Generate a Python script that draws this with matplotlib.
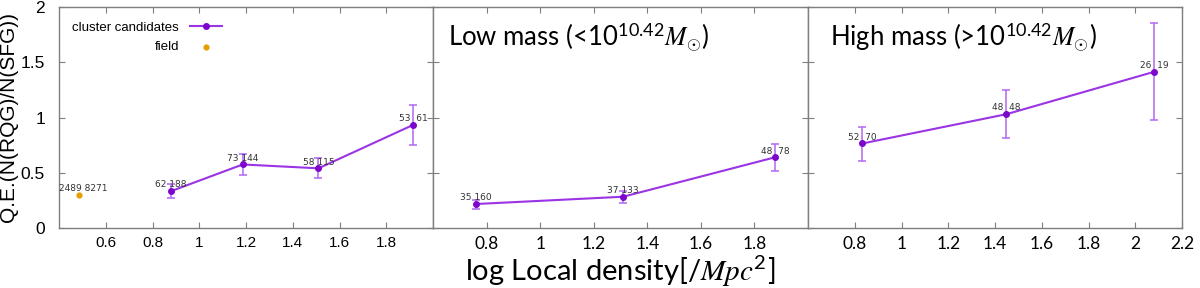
import matplotlib
matplotlib.use('Agg')
import matplotlib.pyplot as plt

plt.rcParams['mathtext.fontset'] = 'custom'
plt.rcParams['mathtext.rm'] = 'Lato'
plt.rcParams['mathtext.sf'] = 'Lato'
plt.rcParams['mathtext.it'] = 'STIXGeneral:italic'
plt.rcParams['mathtext.bf'] = 'Lato:bold'

# all galaxies
all_x = [0.88, 1.186, 1.51, 1.916]
all_y = [0.334, 0.575, 0.54, 0.934]
all_lo = [0.27, 0.48, 0.45, 0.75]
all_hi = [0.40, 0.666, 0.635, 1.115]
all_lab = ['62 188', '73 144', '58 115', '53  61']
field_x = [0.484]
field_y = [0.30]
field_lab = ['2489 8271']

# low mass
low_x = [0.76, 1.31, 1.877]
low_y = [0.217, 0.283, 0.64]
low_lo = [0.17, 0.23, 0.52]
low_hi = [0.25, 0.337, 0.76]
low_lab = ['35 160', '37 133', '48  78']

# high mass
high_x = [0.833, 1.449, 2.08]
high_y = [0.765, 1.03, 1.413]
high_lo = [0.61, 0.816, 0.976]
high_hi = [0.916, 1.253, 1.858]
high_lab = ['52  70', '48  48', '26  19']

line_c = '#9a34e4'
err_c = '#b266f2'
pt_c = '#7d06cc'
field_c = '#e69f00'
spine_c = '#7f7f7f'


def draw(ax, x, y, lo, hi, labels):
    yerr = [[v - l for v, l in zip(y, lo)], [h - v for v, h in zip(y, hi)]]
    ax.errorbar(x, y, yerr=yerr, fmt='none', ecolor=err_c, elinewidth=1.1,
                capsize=3, capthick=1.1, zorder=2)
    line, = ax.plot(x, y, '-', color=line_c, lw=1.5, marker='o', ms=4,
                    mfc=pt_c, mec=pt_c, zorder=3, label='cluster candidates')
    for xi, yi, t in zip(x, y, labels):
        ax.annotate(t, (xi, yi), xytext=(0, 4.5), textcoords='offset points',
                    ha='center', va='center', fontsize=6.5, color='#333333',
                    family='DejaVu Sans')
    return line


def frame(ax, xlim, xticks, tick_font, tick_size):
    ax.set_xlim(*xlim)
    ax.set_ylim(0, 2)
    ax.set_xticks(xticks)
    ax.set_xticklabels(['%g' % t for t in xticks], family=tick_font,
                       fontsize=tick_size)
    ax.set_yticks([0, 0.5, 1, 1.5, 2])
    ax.tick_params(direction='in', top=True, right=True, length=4,
                   color=spine_c, width=0.8, pad=6)
    for s in ax.spines.values():
        s.set_color(spine_c)
        s.set_linewidth(1.0)


fig = plt.figure(figsize=(12, 2.88), dpi=100)
b, h = 1 - 228 / 288, (228 - 7) / 288
ax1 = fig.add_axes([59 / 1200, b, 374 / 1200, h])
ax2 = fig.add_axes([433 / 1200, b, 375 / 1200, h])
ax3 = fig.add_axes([808 / 1200, b, 374 / 1200, h])

line = draw(ax1, all_x, all_y, all_lo, all_hi, all_lab)
fld = ax1.scatter(field_x, field_y, s=12, color=field_c, zorder=3, label='field')
for xi, yi, t in zip(field_x, field_y, field_lab):
    ax1.annotate(t, (xi, yi), xytext=(3, 4.5), textcoords='offset points',
                 ha='center', va='center', fontsize=6.5, color='#333333',
                 family='DejaVu Sans')
frame(ax1, (0.4, 2.0), [0.6, 0.8, 1, 1.2, 1.4, 1.6, 1.8], 'Liberation Sans', 11)
ax1.set_yticklabels(['0', '0.5', '1', '1.5', '2'], family='Liberation Sans',
                    fontsize=12.5)
ax1.tick_params(axis='y', pad=10)
ax1.set_ylabel('Q.E.(N(RQG)/N(SFG))', family='Liberation Sans', fontsize=15,
               labelpad=2)
ax1.legend(handles=[line, fld], loc='upper left', bbox_to_anchor=(0.0, 0.995),
           markerfirst=False, frameon=False, prop={'family': 'Liberation Sans',
                                                    'size': 9.5},
           handlelength=2.5, labelspacing=0.55, borderaxespad=0.6)

draw(ax2, low_x, low_y, low_lo, low_hi, low_lab)
frame(ax2, (0.6, 2.0), [0.8, 1, 1.2, 1.4, 1.6, 1.8], 'Lato', 12.5)
ax2.set_yticklabels([])
ax2.text(0.04, 0.94, r'Low mass (<10$^{10.42}M_{\odot}$)', transform=ax2.transAxes,
         ha='left', va='top', fontsize=18.5, family='Lato')
ax2.set_xlabel(r'log Local density[$/Mpc^2$]', family='Lato', fontsize=21,
               labelpad=1)

draw(ax3, high_x, high_y, high_lo, high_hi, high_lab)
frame(ax3, (0.6, 2.2), [0.8, 1, 1.2, 1.4, 1.6, 1.8, 2, 2.2], 'Lato', 12.5)
ax3.set_yticklabels([])
ax3.text(0.06, 0.94, r'High mass (>10$^{10.42}M_{\odot}$)', transform=ax3.transAxes,
         ha='left', va='top', fontsize=18.5, family='Lato')

fig.savefig('out.png', dpi=100)
